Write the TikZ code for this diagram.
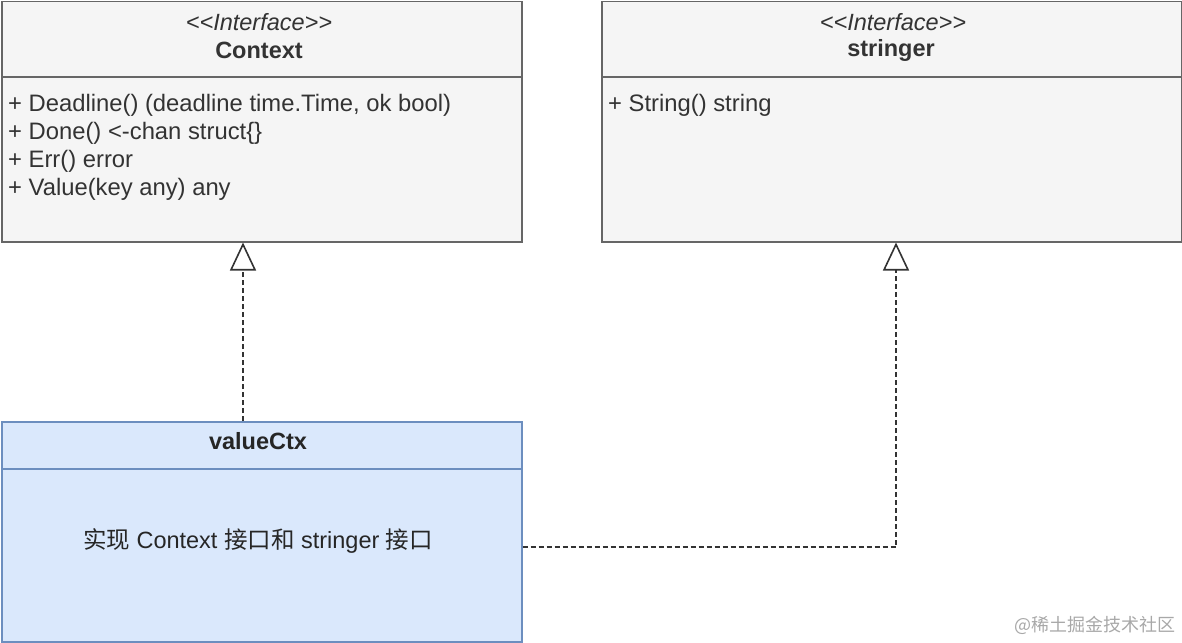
\documentclass[tikz,border=0pt]{standalone}
\usepackage{fontspec}
\setmainfont{Liberation Sans}
\newfontfamily\cjk{Noto Sans CJK SC}
\usetikzlibrary{arrows.meta}
\definecolor{ifill}{HTML}{F5F5F5}
\definecolor{iline}{HTML}{666666}
\definecolor{itext}{HTML}{333333}
\definecolor{bfill}{HTML}{DAE8FC}
\definecolor{bline}{HTML}{6C8EBF}
\definecolor{wm}{HTML}{A8A8A8}
\tikzset{
  ifbox/.style={draw=iline, fill=ifill, line width=1.5pt, rectangle, anchor=north west, inner sep=0pt},
  clsbox/.style={draw=bline, fill=bfill, line width=1.5pt, rectangle, anchor=north west, inner sep=0pt},
  stereo/.style={font=\fontsize{23.5}{26}\selectfont\itshape, text=itext, inner sep=0pt},
  title/.style={font=\fontsize{23.5}{26}\selectfont\bfseries, text=itext, inner sep=0pt},
  members/.style={font=\fontsize{23.8}{28}\selectfont, text=itext, inner sep=0pt, anchor=north west, align=left},
  realize/.style={draw=black!80, line width=2pt, dash pattern=on 5pt off 3pt, -{Triangle[open, length=28pt, width=26pt, line width=1.6pt, fill=white]}},
}
\begin{document}
\begin{tikzpicture}[x=1pt, y=-1pt]
\useasboundingbox (0,0) rectangle (1182,642);
% Context interface
\node[ifbox, minimum width=520pt, minimum height=240pt] (ctx) at (1,1) {};
\draw[iline, line width=1.5pt] ([yshift=-76pt]ctx.north west) coordinate (ctxdl) -- ([yshift=-76pt]ctx.north east) coordinate (ctxdr);
\node[stereo] (ctxst) at (259,22) {{<}{<}Interface{>}{>}};
\node[title] (ctxtt) at (259,50) {Context};
\node[members] (ctxm) at (8,94) {+ Deadline() (deadline time.Time, ok bool)\\+ Done() {<}-chan struct\{\}\\+ Err() error\\+ Value(key any) any};
% stringer interface
\node[ifbox, minimum width=580pt, minimum height=240pt] (str) at (601,1) {};
\draw[iline, line width=1.5pt] ([yshift=-76pt]str.north west) coordinate (strdl) -- ([yshift=-76pt]str.north east) coordinate (strdr);
\node[stereo] (strst) at (893,22) {{<}{<}Interface{>}{>}};
\node[title] (strtt) at (891,50) {stringer};
\node[members] (strm) at (608,94) {+ String() string};
% valueCtx class
\node[clsbox, minimum width=520pt, minimum height=220pt] (vc) at (1,421) {};
\draw[bline, line width=1.5pt] ([yshift=-48pt]vc.north west) coordinate (vcdl) -- ([yshift=-48pt]vc.north east) coordinate (vcdr);
\node[title, text=black!85] (vctt) at (258,441) {valueCtx};
\node[font=\fontsize{23.5}{26}\selectfont, text=black!85, inner sep=0pt] (vcm) at (258,541) {{\cjk 实现} Context {\cjk 接口和} stringer {\cjk 接口}};
% connectors
\draw[realize] ([xshift=242pt]vc.north west) -- ([xshift=242pt]ctx.south west);
\draw[realize] ([yshift=-126pt]vc.north east) -| ([xshift=295pt]str.south west);
% watermark
\node[font=\cjk\fontsize{18}{20}\selectfont, text=wm, anchor=east, inner sep=0pt] (wmk) at (1176,625) {@稀土掘金技术社区};
\end{tikzpicture}
\end{document}
